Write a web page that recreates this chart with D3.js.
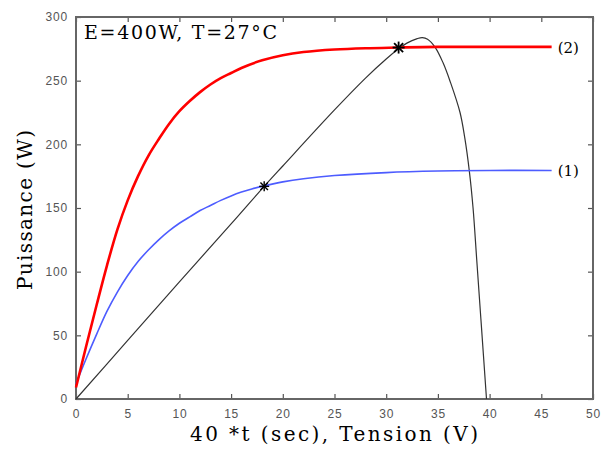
<!DOCTYPE html>
<html lang="fr">
<head>
<meta charset="utf-8">
<script src="https://cdn.jsdelivr.net/npm/d3@7"></script>
<style>
  body { margin: 0; background: #fff; }
  .tick text { font-family: "Liberation Sans", Arial, sans-serif; font-size: 12px; fill: #555; letter-spacing: 0.8px; }
  .tick line { stroke: #555; stroke-width: 1.2; }
</style>
</head>
<body>
<script>
  // axes
  const xTicks = [0, 5, 10, 15, 20, 25, 30, 35, 40, 45, 50]
  const yTicks = [0, 50, 100, 150, 200, 250, 300]

  // courbe (2) : puissance, E=400W
  const redV = [0, 1, 2, 3, 4, 5, 6, 7, 8, 9, 10, 11, 12, 13, 14, 15, 16, 18, 20, 22, 25, 28, 31, 35, 46]
  const redP = [9, 42, 74, 105, 133, 156, 175, 191, 204, 216, 226, 234, 241, 247, 252, 256, 260, 266, 270, 272.5, 274.5, 275.5, 276, 276.5, 276.5]

  // courbe (1)
  const blueV = [0, 1, 2, 3, 4, 5, 6, 7, 8, 9, 10, 11, 12, 13, 14, 15, 16, 17, 18, 20, 22, 25, 30, 35, 40, 46]
  const blueP = [12, 32, 51, 69, 84, 97, 108, 117, 125, 132, 138, 143, 148, 152, 156, 159.5, 162.5, 165, 167, 170.5, 173, 175.5, 177.8, 179, 179.5, 179.5]

  // caracteristique P(V) du panneau
  const pvV = [0, 5, 10, 15, 18.2, 20, 25, 28, 30, 31.2, 32, 33, 33.5, 34, 34.75, 35.5, 36.2, 37.14, 37.6, 38.04, 38.4, 38.75, 39.2, 39.7]
  const pvP = [0, 46, 92, 137.5, 167, 183, 227, 252, 267, 275, 279.5, 283, 283.8, 282.5, 276, 264, 249, 225, 205, 179, 150, 110, 58, 0]

  // points de fonctionnement
  const starV = [18.2, 31.2]
  const starP = [167, 276]

  const w = 615
  const h = 450
  const x = d3.scaleLinear().domain([0, 50]).range([76, 593])
  const y = d3.scaleLinear().domain([0, 300]).range([399, 17])

  const svg = d3.select('body')
    .append('svg')
    .attr('width', w)
    .attr('height', h)

  // ticks (inside, matlab style)
  svg.append('g')
    .attr('transform', 'translate(0,' + y(0) + ')')
    .call(d3.axisBottom(x).tickValues(xTicks).tickSize(-5).tickPadding(10))
    .call(g => g.select('.domain').remove())
  svg.append('g')
    .attr('transform', 'translate(0,' + y(300) + ')')
    .call(d3.axisTop(x).tickValues(xTicks).tickSize(-5).tickFormat(''))
    .call(g => g.select('.domain').remove())
  svg.append('g')
    .attr('transform', 'translate(' + x(0) + ',0)')
    .call(d3.axisLeft(y).tickValues(yTicks).tickSize(-5).tickPadding(8))
    .call(g => g.select('.domain').remove())
  svg.append('g')
    .attr('transform', 'translate(' + x(50) + ',0)')
    .call(d3.axisRight(y).tickValues(yTicks).tickSize(-5).tickFormat(''))
    .call(g => g.select('.domain').remove())

  svg.append('rect')
    .attr('x', x(0))
    .attr('y', y(300))
    .attr('width', x(50) - x(0))
    .attr('height', y(0) - y(300))
    .style('fill', 'none')
    .style('stroke', '#666')
    .style('stroke-width', 2)

  const line = d3.line()
    .x(d => x(d[0]))
    .y(d => y(d[1]))
    .curve(d3.curveCatmullRom.alpha(0.5))

  function draw(vs, ps, color, width) {
    svg.append('path')
      .datum(vs.map((v, i) => [v, ps[i]]))
      .attr('d', line)
      .style('fill', 'none')
      .style('stroke', color)
      .style('stroke-width', width)
  }

  draw(pvV, pvP, '#333', 1.2)
  draw(blueV, blueP, '#4d5cff', 1.6)
  draw(redV, redP, '#ff0000', 2.6)

  // asterisks
  starV.forEach((v, i) => {
    const cx = x(v), cy = y(starP[i]), r = i === 0 ? 5 : 6
    const g = svg.append('g')
      .attr('transform', 'translate(' + cx + ',' + cy + ')')
      .style('stroke', '#000')
      .style('stroke-width', i === 0 ? 1.4 : 1.8)
    g.append('line').attr('x1', -r).attr('x2', r).attr('y1', 0).attr('y2', 0)
    g.append('line').attr('x1', 0).attr('x2', 0).attr('y1', -r).attr('y2', r)
    g.append('line').attr('x1', -r * 0.75).attr('x2', r * 0.75).attr('y1', -r * 0.75).attr('y2', r * 0.75)
    g.append('line').attr('x1', -r * 0.75).attr('x2', r * 0.75).attr('y1', r * 0.75).attr('y2', -r * 0.75)
  })

  const serif = '"DejaVu Serif", "Liberation Serif", serif'

  svg.append('text')
    .attr('x', 84)
    .attr('y', 39)
    .attr('textLength', 193)
    .style('font-family', serif)
    .style('font-size', '19px')
    .text('E=400W, T=27°C')

  svg.append('text')
    .attr('x', x(46) + 6)
    .attr('y', y(276.5) + 6)
    .style('font-family', serif)
    .style('font-size', '15px')
    .text('(2)')
  svg.append('text')
    .attr('x', x(46) + 6)
    .attr('y', y(179.5) + 6)
    .style('font-family', serif)
    .style('font-size', '15px')
    .text('(1)')

  svg.append('text')
    .attr('x', 190)
    .attr('y', 441)
    .attr('textLength', 288)
    .style('font-family', serif)
    .style('font-size', '20px')
    .text('40 *t (sec),  Tension (V)')

  svg.append('text')
    .attr('transform', 'translate(32,290) rotate(-90)')
    .attr('textLength', 160)
    .style('font-family', serif)
    .style('font-size', '20px')
    .text('Puissance (W)')
</script>
</body>
</html>
